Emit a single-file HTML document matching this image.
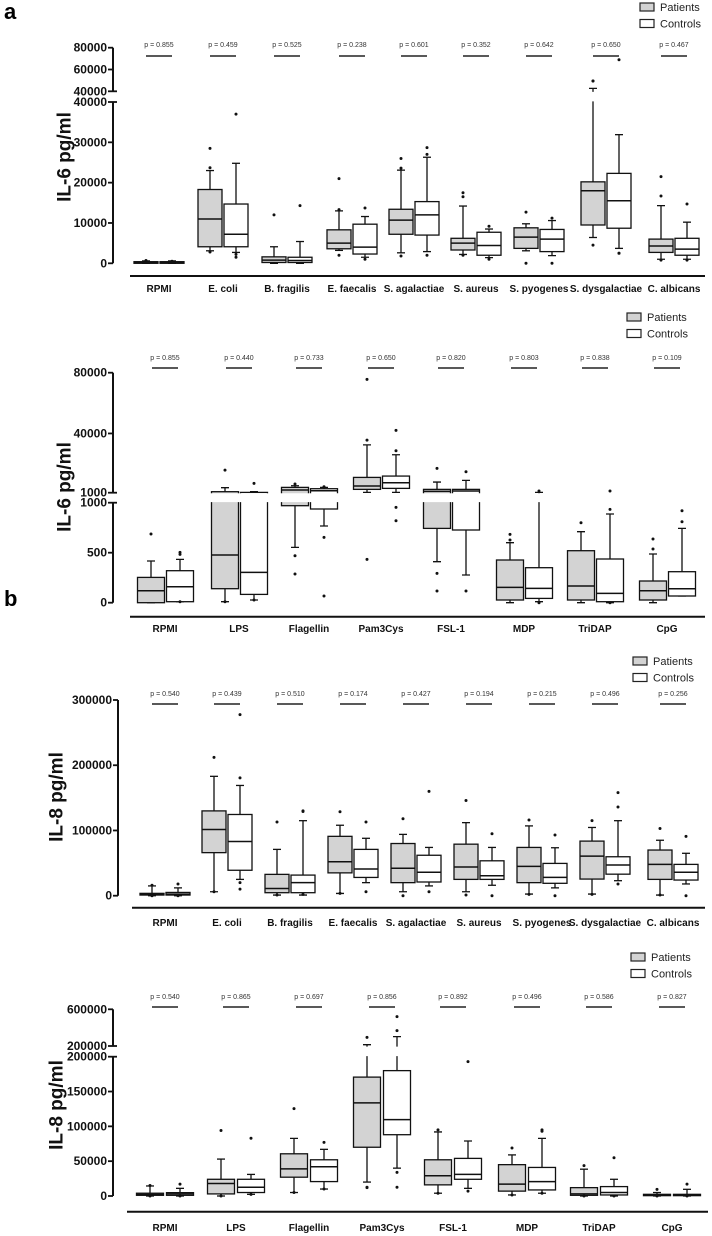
<!DOCTYPE html>
<html><head><meta charset="utf-8"><style>
html,body{margin:0;padding:0;background:#fff;}
svg{display:block;font-family:"Liberation Sans",sans-serif;}
</style></head><body>
<svg id="fig" width="712" height="1236" viewBox="0 0 712 1236" xmlns="http://www.w3.org/2000/svg">
<text x="4" y="19" font-size="22" font-weight="bold">a</text>
<text x="4" y="606" font-size="22" font-weight="bold">b</text>
</svg>
<script>
// ---------- DATA ----------
const bactCats = ["RPMI","E. coli","B. fragilis","E. faecalis","S. agalactiae","S. aureus","S. pyogenes","S. dysgalactiae","C. albicans"];
const tlrCats = ["RPMI","LPS","Flagellin","Pam3Cys","FSL-1","MDP","TriDAP","CpG"];

// Panel 1: IL-6 bacteria, [lo, q1, median, q3, hi]
const p1Pvals = ["0.855","0.459","0.525","0.238","0.601","0.352","0.642","0.650","0.467"];
const p1Patients = [[0,0,200,400,600],[3100,4100,11000,18300,23000],[0,200,800,1600,4100],[3200,3600,5000,8300,13000],[2600,7200,10700,13400,23100],[2200,3300,5000,6200,14200],[3100,3700,6500,8800,9800],[6400,9500,18000,20200,42700],[1000,2700,4300,6000,14300]];
const p1PatientOut = [[700],[28500,23700,2800],[12000],[21000,13300,2000],[26000,23600,1800],[17500,16500,2000],[12700,0],[4500,49500,49500],[21500,16700,800]];
const p1Controls = [[0,0,200,400,600],[2700,4100,7200,14700,24800],[0,200,700,1500,5400],[1500,2300,4000,9700,11600],[2900,7000,12000,15300,26300],[1400,2000,4400,7700,8500],[1900,2900,6000,8400,10600],[3700,8700,15500,22300,31900],[1000,2000,3500,6200,10200]];
const p1ControlOut = [[500],[37000,1500,2200],[14300],[13700,1000],[28700,27000,2000],[9200,1000],[11200,0],[69000,2500,2500],[14700,800]];

// Panel 2: IL-6 TLR ligands
const p2Pvals = ["0.855","0.440","0.733","0.650","0.820","0.803","0.838","0.109"];
const p2Patients = [[0,0,120,253,417],[10,140,477,1660,4290],[553,970,2750,4500,5600],[1200,3190,5380,11070,32500],[410,743,1880,3190,8000],[0,27,153,427,600],[0,27,167,520,710],[0,27,120,217,487]];
const p2PatientOut = [[687],[15900,10],[470,287,6700],[75600,35600,433],[17000,293,117],[627,683],[800],[537,637]];
const p2Controls = [[10,10,160,320,433],[27,83,303,1200,1660],[767,937,2300,3630,4500],[1200,3850,7570,11950,26000],[277,727,2100,3190,9100],[10,43,143,350,1200],[0,10,93,437,887],[67,67,140,310,743]];
const p2ControlOut = [[483,503,10],[7100,27],[653,67,4950],[42000,28600,953,820],[14800,117],[2100,0],[933,2100,0],[810,920]];

// Panel 3: IL-8 bacteria
const p3Pvals = ["0.540","0.439","0.510","0.174","0.427","0.194","0.215","0.496","0.256"];
const p3Patients = [[0,1000,2500,3600,15000],[6000,66000,101500,130000,183000],[1000,4600,11000,32700,71000],[3500,35000,52000,91000,108000],[6000,20000,42000,80000,94000],[6000,25000,44000,79000,112000],[2500,20000,45000,74000,107000],[2500,25500,60700,83700,104600],[1000,25000,48000,70000,85000]];
const p3PatientOut = [[16000,0],[212000,6000],[113000,1000],[128600,3500],[118000,0],[146000,1000],[116000,2000],[115000,2000],[103000,1000]];
const p3Controls = [[0,1000,2500,5000,12000],[25000,39000,83000,124500,169000],[1000,4600,20000,31600,115000],[20000,28000,41000,71000,88000],[15000,21000,36000,62000,74000],[16000,25000,30600,53500,74000],[12000,19000,28000,49500,73500],[23000,33000,47000,59700,115000],[18000,24000,36000,48000,65000]];
const p3ControlOut = [[18000,0],[277500,180600,10000,20000],[130000,129000,2000],[113000,6000],[160000,6000],[95000,0],[93000,0],[158000,136000,18000],[91000,0]];

// Panel 4: IL-8 TLR ligands
const p4Pvals = ["0.540","0.865","0.697","0.856","0.892","0.496","0.586","0.827"];
const p4Patients = [[0,1000,2400,4000,14400],[0,3000,18000,24000,53000],[5000,27000,39000,60600,82700],[20000,70000,133700,170700,214500],[4000,16000,29000,52000,92000],[1500,7000,17000,45000,59000],[0,1000,3000,12000,38500],[0,500,1500,2400,5000]];
const p4PatientOut = [[15000,0],[94000,0],[125500,5000],[12500,294500,12000],[95000,4000],[69000,1500],[43700,0],[9600,0]];
const p4Controls = [[0,1000,3000,4800,11000],[2400,5000,12500,24000,31000],[10000,20700,42000,52000,67000],[40000,88000,109600,180000,302000],[11000,24000,31000,54000,79000],[4000,8700,20700,41000,82700],[0,1500,5000,13500,24000],[0,500,1500,2400,9600]];
const p4ControlOut = [[17000,0],[83000,2400],[77000,10000],[520000,367000,34000,12500],[193000,7000],[95000,93000,4000],[55000,0],[17000,0]];

// ---------- LAYOUT ----------
const NS = "http://www.w3.org/2000/svg";
const svg = document.getElementById("fig");
function mk(tag, attrs, parent){const e=document.createElementNS(NS,tag);for(const k in attrs)e.setAttribute(k,attrs[k]);(parent||svg).appendChild(e);return e;}

const panels = [
 {id:"il6-bacteria", cats:bactCats, pv:p1Pvals, pat:p1Patients, patOut:p1PatientOut, con:p1Controls, conOut:p1ControlOut,
  centers:[159,223,287,352,414,476,539,606,674], offP:-13, offC:13, bw:24,
  axisX:113, segs:[{v0:0,v1:40000,y0:263.3,y1:102},{v0:40000,v1:80000,y0:91.3,y1:47.7}],
  ticks:[[0,0,"0"],[10000,0,"10000"],[20000,0,"20000"],[30000,0,"30000"],[40000,0,"40000"],[40000,1,"40000"],[60000,1,"60000"],[80000,1,"80000"]],
  xLineY:276, xl0:130, xl1:705, labelY:292, pY:47, pLineY:56, legX:640, legY:7, title:"IL-6 pg/ml", tX:64, tY:157},
 {id:"il6-tlr", cats:tlrCats, pv:p2Pvals, pat:p2Patients, patOut:p2PatientOut, con:p2Controls, conOut:p2ControlOut,
  centers:[165,239,309,381,451,524,595,667], offP:-14, offC:15, bw:27,
  axisX:113, segs:[{v0:0,v1:1000,y0:602.7,y1:502.7},{v0:1000,v1:80000,y0:492.7,y1:372.7}],
  ticks:[[0,0,"0"],[500,0,"500"],[1000,0,"1000"],[1000,1,"1000"],[40000,1,"40000"],[80000,1,"80000"]],
  xLineY:616.7, xl0:130, xl1:705, labelY:632, pY:360, pLineY:368, legX:627, legY:317, title:"IL-6 pg/ml", tX:64, tY:487},
 {id:"il8-bacteria", cats:bactCats, pv:p3Pvals, pat:p3Patients, patOut:p3PatientOut, con:p3Controls, conOut:p3ControlOut,
  centers:[165,227,290,353,416,479,542,605,673], offP:-13, offC:13, bw:24,
  axisX:118, segs:[{v0:0,v1:300000,y0:895.7,y1:700}],
  ticks:[[0,0,"0"],[100000,0,"100000"],[200000,0,"200000"],[300000,0,"300000"]],
  xLineY:907.7, xl0:132, xl1:705, labelY:926, pY:696, pLineY:704, legX:633, legY:661, title:"IL-8 pg/ml", tX:56, tY:797},
 {id:"il8-tlr", cats:tlrCats, pv:p4Pvals, pat:p4Patients, patOut:p4PatientOut, con:p4Controls, conOut:p4ControlOut,
  centers:[165,236,309,382,453,527,599,672], offP:-15, offC:15, bw:27,
  axisX:113, segs:[{v0:0,v1:200000,y0:1196,y1:1056.7},{v0:200000,v1:600000,y0:1046,y1:1009.3}],
  ticks:[[0,0,"0"],[50000,0,"50000"],[100000,0,"100000"],[150000,0,"150000"],[200000,0,"200000"],[200000,1,"200000"],[600000,1,"600000"]],
  xLineY:1211.7, xl0:127, xl1:708, labelY:1231, pY:999, pLineY:1007, legX:631, legY:957, title:"IL-8 pg/ml", tX:56, tY:1105}
];

// values outside a segment are pushed far away so they get clipped
function scaleFor(s, first){
  return v => {
    if (v < s.v0 && !first) return s.y0 + 60;
    if (v > s.v1) return s.y1 - 60;
    return s.y0 + (v - s.v0) / (s.v1 - s.v0) * (s.y1 - s.y0);
  };
}

panels.forEach((P, pi) => {
  const g = mk("g", {});
  
  
  P.segs.forEach((s, si) => {
    const ax = mk("line", {x1:P.axisX, x2:P.axisX, y1:s.y0, y2:s.y1, stroke:"#111", "stroke-width":2}, g);
    
    
  });
  P.ticks.forEach(t => {
    const y = scaleFor(P.segs[t[1]], t[1]===0)(t[0]);
    mk("line", {x1:P.axisX-5, x2:P.axisX+ (P.segs.length>1 && (t[0]===P.segs[0].v1)?4:0), y1:y, y2:y, stroke:"#111", "stroke-width":1.8}, g);
    const tx = mk("text", {x:P.axisX-6, y:y+4, "font-size":12, "font-weight":"bold", "text-anchor":"end", fill:"#111"}, g);
    tx.textContent = t[2];
    
    
  });
  const tt = mk("text", {x:P.tX, y:P.tY, "font-size":19, "font-weight":"bold", "text-anchor":"middle", transform:`rotate(-90 ${P.tX} ${P.tY})`, fill:"#111", dy:"0.35em"}, g);
  tt.textContent = P.title;
  
  
  const xl = mk("line", {x1:P.xl0, x2:P.xl1, y1:P.xLineY, y2:P.xLineY, stroke:"#111", "stroke-width":2}, g);
  
  
  [["Patients","#d3d3d3"],["Controls","#fff"]].forEach((L, li) => {
    const y = P.legY + li * 16.5;
    const r = mk("rect", {x:P.legX, y:y-4, width:14, height:8, fill:L[1], stroke:"#222", "stroke-width":1.2}, g);
    
    
    const lt = mk("text", {x:P.legX+20, y:y+4, "font-size":11, fill:"#222"}, g);
    lt.textContent = L[0];
    
    
  });
  const clipIds = P.segs.map((s, si) => {
    const id = "clip" + pi + "_" + si;
    const cp = mk("clipPath", {id:id}, g);
    const pad = si === 0 ? 3 : 0.6;
    mk("rect", {x:0, y:Math.min(s.y0,s.y1)-0.6, width:712, height:Math.abs(s.y0-s.y1)+0.6+pad}, cp);
    return id;
  });
  P.cats.forEach((c, ci) => {
    const cx = P.centers[ci];
    const cl = mk("text", {x:cx, y:P.labelY, "font-size":10, "font-weight":"bold", "text-anchor":"middle", fill:"#111"}, g);
    cl.textContent = c;
    
    
    const pt = mk("text", {x:cx, y:P.pY, "font-size":7, "text-anchor":"middle", fill:"#333"}, g);
    pt.textContent = "p = " + P.pv[ci];
    
    
    const pl = mk("line", {x1:cx-13, x2:cx+13, y1:P.pLineY, y2:P.pLineY, stroke:"#222", "stroke-width":1.6}, g);
    
    
    [[P.pat[ci], P.patOut[ci], P.offP, "#d3d3d3", "patients"], [P.con[ci], P.conOut[ci], P.offC, "#fff", "controls"]].forEach(S => {
      const d = S[0], outs = S[1], bx = cx + S[2], fill = S[3];
      P.segs.forEach((s, si) => {
        const y = scaleFor(s, si === 0);
        const bg = mk("g", {"clip-path":`url(#${clipIds[si]})`}, g);
        
        
        const sw = 1.3, hw = P.bw/2;
        mk("line", {x1:bx, x2:bx, y1:y(d[0]), y2:y(d[1]), stroke:"#111", "stroke-width":sw}, bg);
        mk("line", {x1:bx, x2:bx, y1:y(d[3]), y2:y(d[4]), stroke:"#111", "stroke-width":sw}, bg);
        mk("line", {x1:bx-4, x2:bx+4, y1:y(d[0]), y2:y(d[0]), stroke:"#111", "stroke-width":sw}, bg);
        mk("line", {x1:bx-4, x2:bx+4, y1:y(d[4]), y2:y(d[4]), stroke:"#111", "stroke-width":sw}, bg);
        const yt = y(d[3]), yb = y(d[1]);
        mk("rect", {x:bx-hw, y:yt, width:P.bw, height:Math.max(0.5, yb-yt), fill:fill, stroke:"#111", "stroke-width":sw}, bg);
        mk("line", {x1:bx-hw, x2:bx+hw, y1:y(d[2]), y2:y(d[2]), stroke:"#111", "stroke-width":1.5}, bg);
        outs.forEach(o => {
          const dot = mk("circle", {cx:bx, cy:y(o), r:1.5, fill:"#111"}, bg);
          
          
        });
      });
    });
  });
});
</script>
</body></html>
